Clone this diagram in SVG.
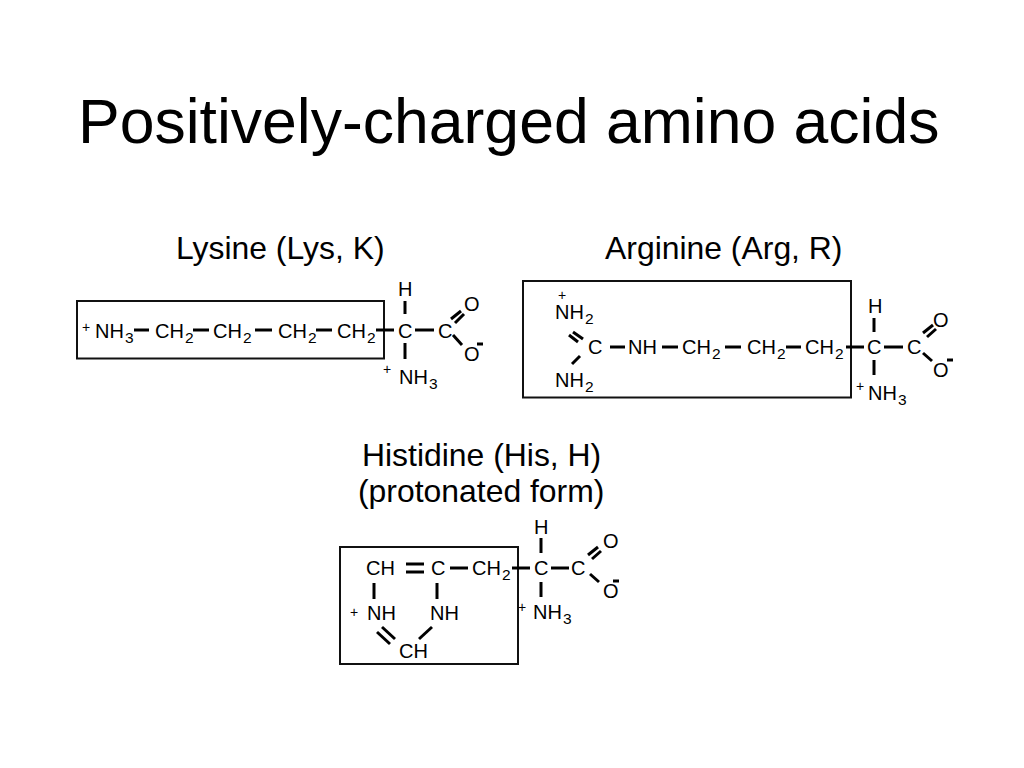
<svg xmlns="http://www.w3.org/2000/svg" width="1024" height="768" viewBox="0 0 1024 768">
<style>
text{font-family:"Liberation Sans",Arial,sans-serif;fill:#000}
.t{font-size:62.500px}
.l{font-size:31.900px}
.a{font-size:20px}
.p{font-size:14px}
.s{font-size:15.500px}
.box{fill:none;stroke:#111;stroke-width:2}
#connectors line{stroke:#000;stroke-width:3}
</style>
<rect width="1024" height="768" fill="#fff"/>
<g id="title"><text class="t" x="78" y="143">Positively-charged amino acids</text></g>
<g id="lysine">
<text class="l" x="176" y="259">Lysine (Lys, K)</text>
<rect class="box" x="77" y="301" width="307" height="57.500"/>
<text class="p" x="82" y="332">+</text>
<text class="a" x="95" y="338">NH<tspan class="s" dx="1" dy="5">3</tspan></text>
<text class="a" x="155" y="338">CH<tspan class="s" dx="1" dy="5">2</tspan></text>
<text class="a" x="213" y="338">CH<tspan class="s" dx="1" dy="5">2</tspan></text>
<text class="a" x="278" y="338">CH<tspan class="s" dx="1" dy="5">2</tspan></text>
<text class="a" x="337" y="338">CH<tspan class="s" dx="1" dy="5">2</tspan></text>
<text class="a" x="398" y="296">H</text>
<text class="a" x="398" y="338">C</text>
<text class="a" x="438" y="338">C</text>
<text class="a" x="464" y="311">O</text>
<text class="a" x="464" y="361">O</text>
<text class="p" x="383" y="374">+</text>
<text class="a" x="399" y="384">NH<tspan class="s" dx="1" dy="5">3</tspan></text>
</g>
<g id="arginine">
<text class="l" x="605" y="259">Arginine (Arg, R)</text>
<rect class="box" x="523" y="281" width="328" height="116.500"/>
<text class="p" x="558" y="300">+</text>
<text class="a" x="555" y="319">NH<tspan class="s" dx="1" dy="5">2</tspan></text>
<text class="a" x="555" y="387">NH<tspan class="s" dx="1" dy="5">2</tspan></text>
<text class="a" x="588" y="354">C</text>
<text class="a" x="628" y="354">NH</text>
<text class="a" x="682" y="354">CH<tspan class="s" dx="1" dy="5">2</tspan></text>
<text class="a" x="747" y="354">CH<tspan class="s" dx="1" dy="5">2</tspan></text>
<text class="a" x="805" y="354">CH<tspan class="s" dx="1" dy="5">2</tspan></text>
<text class="a" x="867" y="354">C</text>
<text class="a" x="907" y="354">C</text>
<text class="a" x="868" y="313">H</text>
<text class="a" x="933" y="327">O</text>
<text class="a" x="933" y="377">O</text>
<text class="p" x="856" y="391">+</text>
<text class="a" x="868" y="400">NH<tspan class="s" dx="1" dy="5">3</tspan></text>
</g>
<g id="histidine">
<text class="l" x="362" y="466">Histidine (His, H)</text>
<text class="l" x="358" y="502">(protonated form)</text>
<rect class="box" x="340" y="547" width="178" height="117"/>
<text class="a" x="366" y="575">CH</text>
<text class="a" x="431" y="575">C</text>
<text class="a" x="472" y="575">CH<tspan class="s" dx="1" dy="5">2</tspan></text>
<text class="a" x="534" y="575">C</text>
<text class="a" x="571" y="575">C</text>
<text class="a" x="534" y="534">H</text>
<text class="a" x="603" y="548">O</text>
<text class="a" x="603" y="598">O</text>
<text class="p" x="350" y="617">+</text>
<text class="a" x="367" y="620">NH</text>
<text class="a" x="430" y="620">NH</text>
<text class="a" x="399" y="658">CH</text>
<text class="p" x="518" y="612">+</text>
<text class="a" x="533" y="619">NH<tspan class="s" dx="1" dy="5">3</tspan></text>
</g>
<g id="connectors">
<line x1="134" y1="330" x2="149" y2="330"/><line x1="193" y1="330" x2="209" y2="330"/><line x1="255" y1="330" x2="272" y2="330"/><line x1="316" y1="330" x2="332" y2="330"/><line x1="376" y1="330" x2="394" y2="330"/><line x1="415" y1="330" x2="434" y2="330"/>
<line x1="405" y1="301" x2="405" y2="314"/><line x1="405" y1="343" x2="405" y2="359"/>
<line x1="451" y1="319" x2="461" y2="311"/><line x1="455" y1="323" x2="464" y2="314"/><line x1="453" y1="335" x2="462" y2="345"/><line x1="477" y1="344" x2="483" y2="344"/>
<line x1="569" y1="335" x2="578" y2="342"/><line x1="573" y1="332" x2="583" y2="339"/><line x1="572" y1="364" x2="580" y2="356"/>
<line x1="610" y1="347" x2="625" y2="347"/><line x1="662" y1="347" x2="678" y2="347"/><line x1="725" y1="347" x2="741" y2="347"/><line x1="786" y1="347" x2="801" y2="347"/><line x1="846" y1="347" x2="864" y2="347"/><line x1="884" y1="347" x2="903" y2="347"/>
<line x1="874" y1="318" x2="874" y2="332"/><line x1="874" y1="360" x2="874" y2="375"/>
<line x1="923" y1="333" x2="933" y2="325"/><line x1="927" y1="337" x2="936" y2="329"/><line x1="923" y1="353" x2="932" y2="361"/><line x1="947" y1="360" x2="953" y2="360"/>
<line x1="406" y1="564" x2="424" y2="564"/><line x1="406" y1="572" x2="424" y2="572"/><line x1="450" y1="568" x2="468" y2="568"/><line x1="512" y1="568" x2="530" y2="568"/><line x1="551" y1="568" x2="569" y2="568"/>
<line x1="541" y1="538" x2="541" y2="553"/><line x1="541" y1="582" x2="541" y2="597"/>
<line x1="588" y1="555" x2="598" y2="547"/><line x1="592" y1="559" x2="601" y2="551"/><line x1="590" y1="574" x2="599" y2="582"/><line x1="613" y1="581" x2="619" y2="581"/>
<line x1="374" y1="583" x2="374" y2="599"/><line x1="437" y1="583" x2="437" y2="599"/>
<line x1="377" y1="632" x2="390" y2="644"/><line x1="382" y1="627" x2="395" y2="639"/><line x1="419" y1="639" x2="432" y2="627"/>
</g>
</svg>
